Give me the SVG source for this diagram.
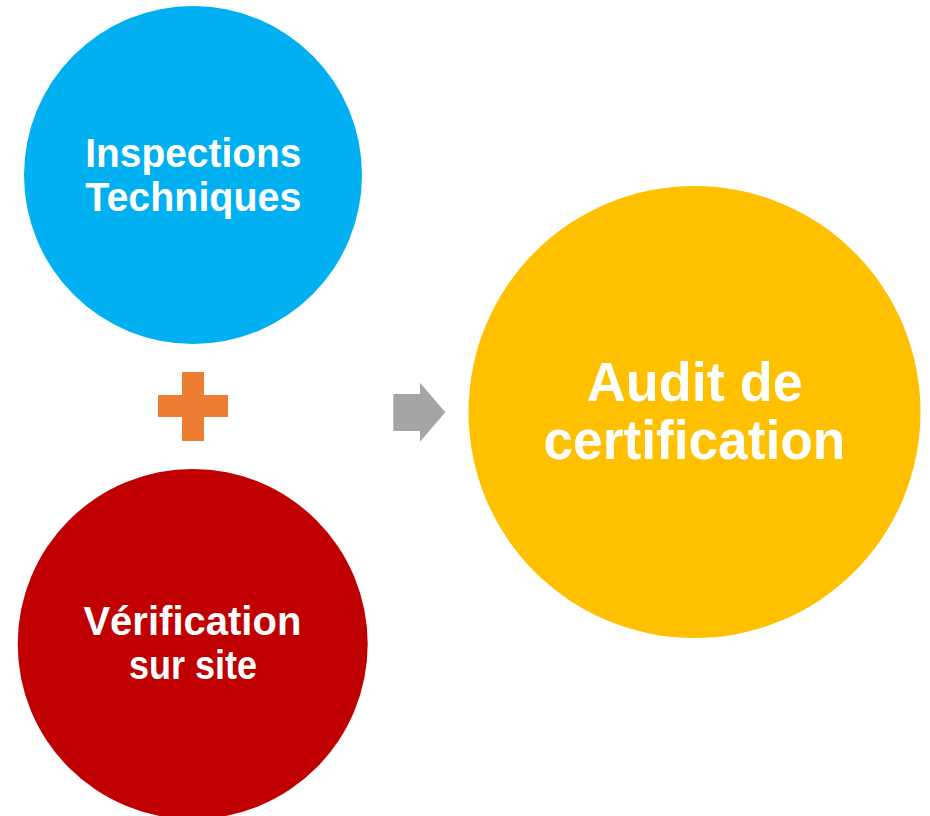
<svg xmlns="http://www.w3.org/2000/svg" width="930" height="816" viewBox="0 0 930 816">
<style>
.lbl{font-family:"Liberation Sans",Arial,sans-serif;font-weight:bold;fill:#FFFFFF;text-anchor:middle}
.s{font-size:41px}
.l{font-size:55px}
</style>
<rect width="930" height="816" fill="#FFFFFF"/>
<g id="inspections">
<circle cx="193" cy="175" r="169" fill="#00B0F0"/>
<text class="lbl s" x="193.3" y="166.7" textLength="216" lengthAdjust="spacingAndGlyphs">Inspections</text>
<text class="lbl s" x="193.3" y="210.7" textLength="216" lengthAdjust="spacingAndGlyphs">Techniques</text>
</g>
<g id="verification">
<circle cx="192.7" cy="644" r="175" fill="#C00000"/>
<text class="lbl s" x="192.4" y="635" textLength="218" lengthAdjust="spacingAndGlyphs">Vérification</text>
<text class="lbl s" x="193" y="679" textLength="128" lengthAdjust="spacingAndGlyphs">sur site</text>
</g>
<g id="audit">
<circle cx="694.5" cy="412" r="226" fill="#FFC000"/>
<text class="lbl l" x="694.7" y="401" textLength="216" lengthAdjust="spacingAndGlyphs">Audit de</text>
<text class="lbl l" x="694.4" y="459.3" textLength="302" lengthAdjust="spacingAndGlyphs">certification</text>
</g>
<g id="connectors">
<path id="plus" d="M182 372H204V395H228V417H204V441H182V417H158V395H182Z" fill="#ED7D31"/>
<path id="arrow" d="M393.3 394H420V382.7L445.3 412.2L420 441.7V431H393.3Z" fill="#A5A5A5"/>
</g>
</svg>
